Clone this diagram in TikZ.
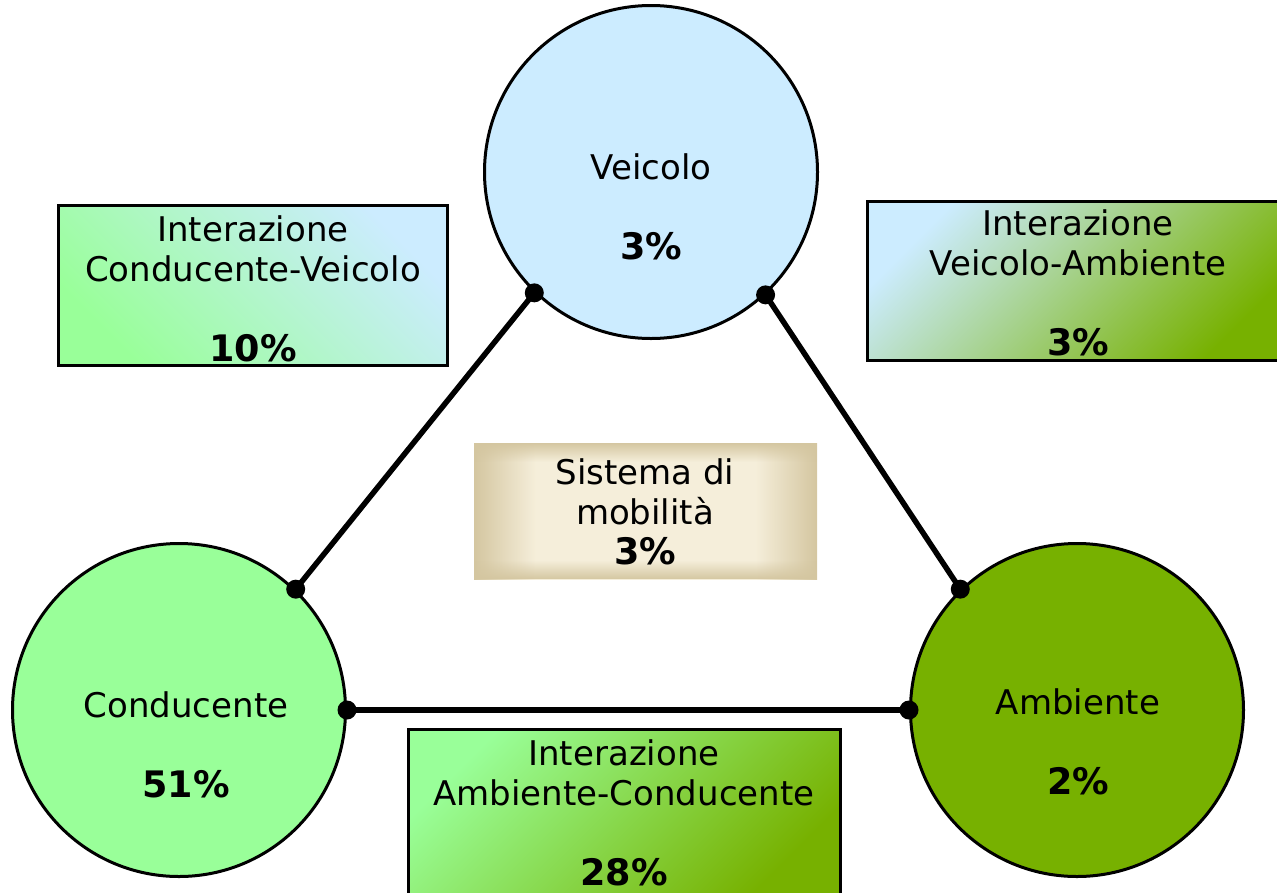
\documentclass[tikz,border=0pt]{standalone}
\usepackage{fontspec}
\setmainfont{DejaVu Sans}
\usetikzlibrary{fadings}
\definecolor{vblue}{HTML}{CCECFF}
\definecolor{cgreen}{HTML}{99FF99}
\definecolor{agreen}{HTML}{77B100}
\definecolor{beD}{HTML}{D4C6A0}
\definecolor{beL}{HTML}{F5EEDA}
\pgfdeclarehorizontalshading{beigeH}{100bp}{color(0bp)=(beD); color(25bp)=(beD); color(34bp)=(beL); color(66bp)=(beL); color(75bp)=(beD); color(100bp)=(beD)}
\pgfdeclareverticalshading{vedgeS}{100bp}{color(0bp)=(transparent!0); color(25bp)=(transparent!0); color(32bp)=(transparent!100); color(68bp)=(transparent!100); color(75bp)=(transparent!0); color(100bp)=(transparent!0)}
\tikzfading[name=vedge, shading=vedgeS]
\newcommand{\pct}[1]{{\fontsize{36.5}{40}\selectfont\bfseries #1}}
\tikzset{
  circ/.style={circle, draw=black, line width=3pt, inner sep=0pt, minimum size=333pt},
  ibox/.style={rectangle, draw=black, line width=3pt, inner sep=0pt},
  lbl/.style={align=center, inner sep=0pt, font=\fontsize{34}{40}\selectfont},
  conn/.style={line width=5.5pt, draw=black},
}
\begin{document}
\begin{tikzpicture}[x=1pt, y=-1pt]
\useasboundingbox (0,0) rectangle (1277,892);
% boxes
\node[ibox, minimum width=389pt, minimum height=160pt, top color=vblue, bottom color=cgreen, shading angle=-45] (cv) at (253,285.5) {};
\node[ibox, minimum width=421pt, minimum height=159pt, top color=vblue, bottom color=agreen, shading angle=45] (va) at (1078,281) {};
\node[ibox, minimum width=432pt, minimum height=165pt, top color=cgreen, bottom color=agreen, shading angle=45] (ac) at (624.5,812) {};
\node[rectangle, inner sep=0pt, minimum width=343pt, minimum height=136pt, shading=beigeH] (sm) at (645.5,511) {};
\fill[beD, path fading=vedge] (sm.north west) rectangle (sm.south east);
% circles
\node[circ, fill=vblue] (v) at (651,172) {};
\node[circ, fill=cgreen] (c) at (179,710) {};
\node[circ, fill=agreen] (a) at (1077,710) {};
% connection points
\coordinate (v1) at (v.226.4);
\coordinate (v2) at (v.313.8);
\coordinate (c1) at (c.46);
\coordinate (c2) at (c.0);
\coordinate (a1) at (a.134.5);
\coordinate (a2) at (a.180);
\draw[conn] (v1) -- (c1);
\draw[conn] (v2) -- (a1);
\draw[conn] (c2) -- (a2);
\foreach \p in {v1,v2,c1,c2,a1,a2} \fill (\p) circle (9.5pt);
% labels
\node[lbl] (tcv) at (253,289) {Interazione\\Conducente-Veicolo\\[40pt]\pct{10\%}};
\node[lbl] (tva) at (1078,283) {Interazione\\Veicolo-Ambiente\\[40pt]\pct{3\%}};
\node[lbl] (tac) at (624,813) {Interazione\\Ambiente-Conducente\\[40pt]\pct{28\%}};
\node[lbl] (tsm) at (645,512) {Sistema di\\mobilità\\\pct{3\%}};
\node[lbl] (tv) at (651,207) {Veicolo\\[40pt]\pct{3\%}};
\node[lbl] (tc) at (186,745) {Conducente\\[40pt]\pct{51\%}};
\node[lbl] (ta) at (1078,742) {Ambiente\\[40pt]\pct{2\%}};
\end{tikzpicture}
\end{document}
